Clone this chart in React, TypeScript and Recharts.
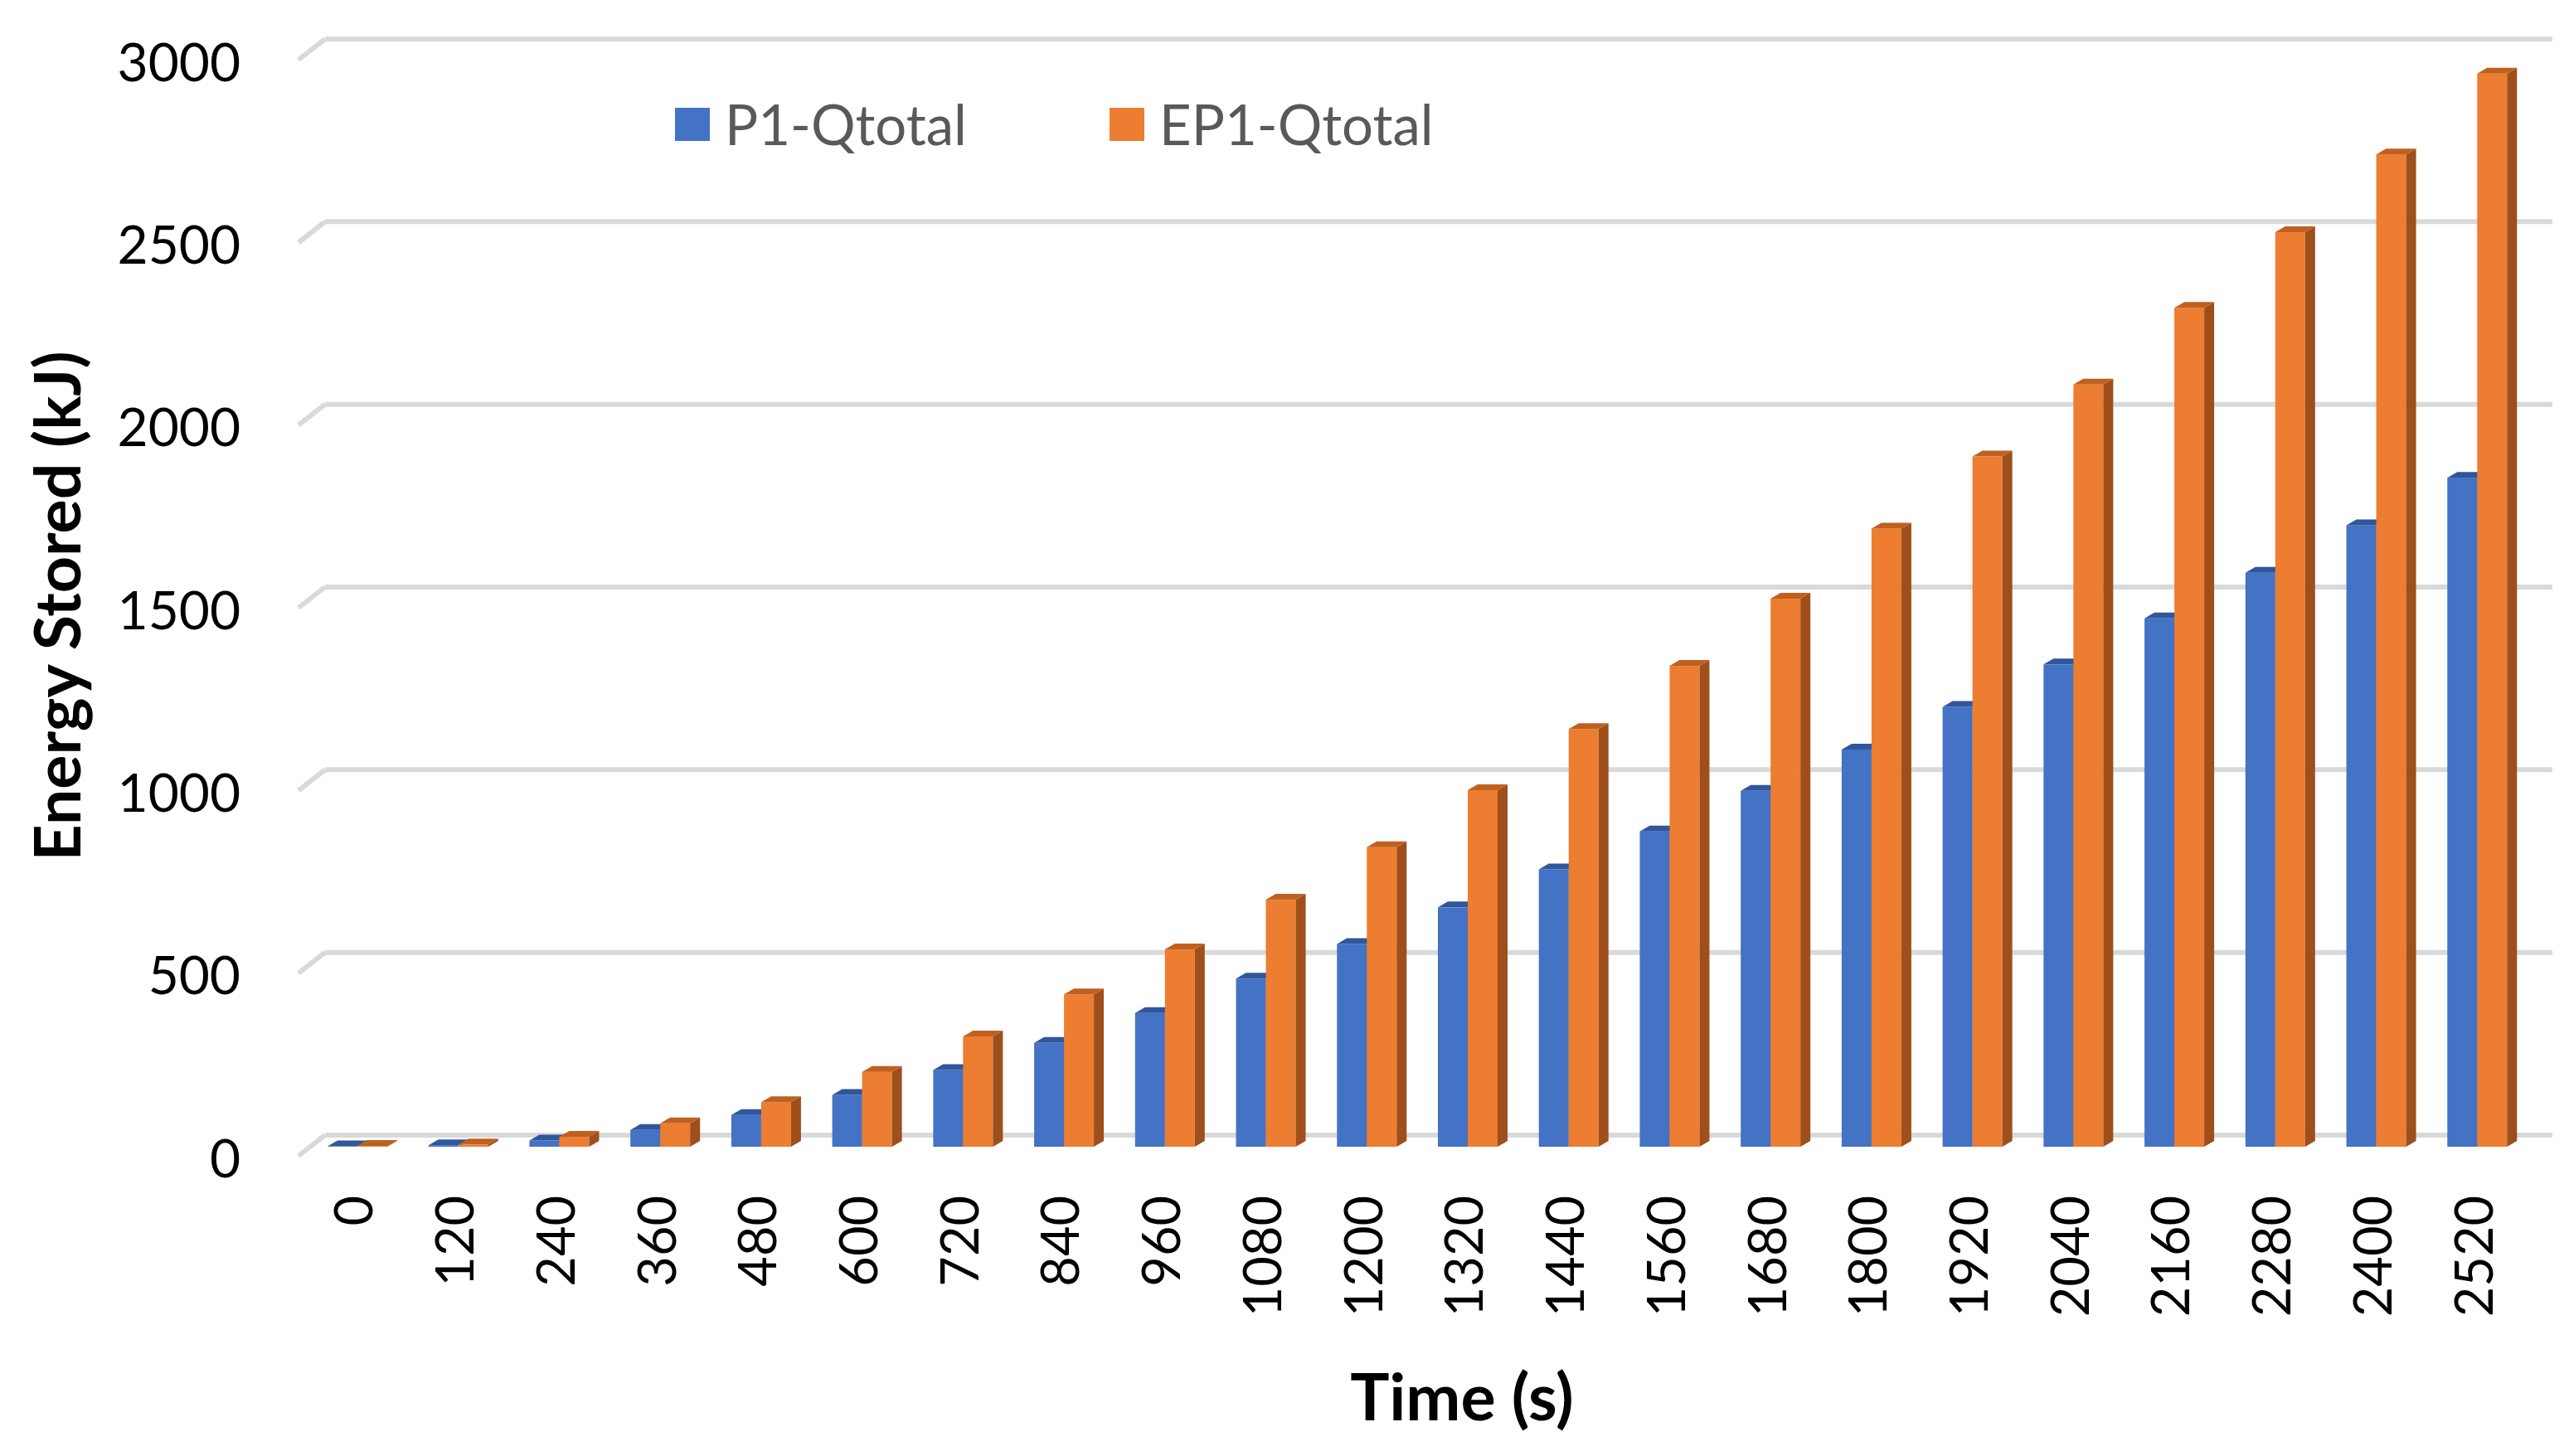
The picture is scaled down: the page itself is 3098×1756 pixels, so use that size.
import { BarChart, Bar, XAxis, YAxis, CartesianGrid, Legend } from 'recharts';

// values (kJ)
const times = ['0', '120', '240', '360', '480', '600', '720', '840', '960', '1080', '1200',
    '1320', '1440', '1560', '1680', '1800', '1920', '2040', '2160', '2280', '2400', '2520'];
const p1Qtotal = [1, 4, 17, 46, 87, 142, 210, 284, 366, 460, 555,
    655, 759, 863, 974, 1087, 1204, 1320, 1446, 1571, 1701, 1831];
const ep1Qtotal = [2, 6, 27, 64, 122, 205, 302, 417, 540, 676, 820,
    976, 1143, 1316, 1500, 1692, 1889, 2086, 2296, 2503, 2716, 2937];
const yTicks = [0, 500, 1000, 1500, 2000, 2500, 3000];
const seriesNames = ['P1-Qtotal', 'EP1-Qtotal'];

const data = times.map((t, i) => ({ time: t, p1: p1Qtotal[i], ep1: ep1Qtotal[i] }));

const FONT = 'Lato, "Open Sans", sans-serif';
const DEPTH_X = 12;
const DEPTH_Y = 7;

// fake 3D column: front face + top + right side
function Box3D(props: any) {
    const { x, y, width, height, fill, topFill, sideFill } = props;
    if (x == null || y == null) return null;
    const w = width;
    const h = Math.max(height, 0);
    const top = `${x},${y} ${x + DEPTH_X},${y - DEPTH_Y} ${x + w + DEPTH_X},${y - DEPTH_Y} ${x + w},${y}`;
    const side = `${x + w},${y} ${x + w + DEPTH_X},${y - DEPTH_Y} ${x + w + DEPTH_X},${y + h - DEPTH_Y} ${x + w},${y + h}`;
    return (
        <g>
            <rect x={x} y={y} width={w} height={h} fill={fill} />
            <polygon points={side} fill={sideFill} />
            <polygon points={top} fill={topFill} />
        </g>
    );
}

// back-wall gridline with the little slanted floor edge on the left
function GridLine(props: any) {
    const { x1, x2, y1 } = props;
    return (
        <g>
            <line x1={x1 + 22} y1={y1 - 14} x2={x2 + 30} y2={y1 - 14} stroke="#D9D9D9" strokeWidth={6} />
            <line x1={x1 - 10} y1={y1 + 11} x2={x1 + 22} y2={y1 - 14} stroke="#D9D9D9" strokeWidth={6} />
        </g>
    );
}

function YTick({ x, y, payload }: any) {
    return (
        <text x={x - 80} y={y + 12} textAnchor="end" dominantBaseline="central"
            fontFamily={FONT} fontSize={64} fill="#000">
            {payload.value}
        </text>
    );
}

function XTick({ x, y, payload }: any) {
    const tx = x - 6;
    const ty = y + 59;
    return (
        <text x={tx} y={ty} transform={`rotate(-90 ${tx} ${ty})`} textAnchor="end" dominantBaseline="central"
            fontFamily={FONT} fontSize={63} fill="#000">
            {payload.value}
        </text>
    );
}

function renderLegend({ payload }: any) {
    const items = [...(payload || [])].sort(
        (a: any, b: any) => seriesNames.indexOf(a.value) - seriesNames.indexOf(b.value));
    return (
        <div style={{ display: 'flex', alignItems: 'center', fontFamily: FONT, fontSize: 67, color: '#595959' }}>
            {items.map((entry: any, i: number) => (
                <div key={entry.value} style={{ display: 'flex', alignItems: 'center', width: i === 0 ? 524 : 'auto' }}>
                    <span style={{ display: 'inline-block', width: 42, height: 40, background: entry.color, marginRight: 18 }} />
                    <span style={{ lineHeight: 1 }}>{entry.value}</span>
                </div>
            ))}
        </div>
    );
}

export default function App() {
    return (
        <div style={{ position: 'absolute', left: 0, top: 0, width: 3098, height: 1756, background: '#fff' }}>
            <BarChart
                width={3098}
                height={1756}
                data={data}
                margin={{ top: 61, right: 50, bottom: 173, left: 270 }}
                barCategoryGap={25}
                barGap={0}
            >
                <CartesianGrid vertical={false} horizontal={GridLine} />
                <XAxis
                    dataKey="time"
                    axisLine={false}
                    tickLine={false}
                    tickSize={0}
                    tickMargin={0}
                    height={200}
                    interval={0}
                    tick={XTick}
                    label={{
                        content: ({ viewBox }: any) => (
                            <text x={viewBox.x + viewBox.width / 2 + 54} y={1682} textAnchor="middle"
                                dominantBaseline="central" fontFamily={FONT} fontWeight={700} fontSize={79} fill="#000">
                                Time (s)
                            </text>
                        ),
                    }}
                />
                <YAxis
                    domain={[0, 3000]}
                    ticks={yTicks}
                    interval={0}
                    axisLine={false}
                    tickLine={false}
                    tickSize={0}
                    tickMargin={0}
                    width={100}
                    tick={YTick}
                    label={{
                        content: ({ viewBox }: any) => {
                            const cx = viewBox.x - 203;
                            const cy = viewBox.y + viewBox.height / 2 + 9;
                            return (
                                <text x={cx} y={cy} transform={`rotate(-90 ${cx} ${cy})`} textAnchor="middle"
                                    dominantBaseline="central" fontFamily={FONT} fontWeight={700} fontSize={77} fill="#000">
                                    Energy Stored (kJ)
                                </text>
                            );
                        },
                    }}
                />
                <Legend
                    layout="horizontal"
                    verticalAlign="middle"
                    align="center"
                    content={renderLegend}
                    wrapperStyle={{ top: 116, left: 814, width: 1000, height: 80 }}
                />
                <Bar
                    dataKey="p1"
                    name="P1-Qtotal"
                    fill="#4472C4"
                    isAnimationActive={false}
                    shape={(p: any) => <Box3D {...p} topFill="#30569B" sideFill="#2F5597" />}
                />
                <Bar
                    dataKey="ep1"
                    name="EP1-Qtotal"
                    fill="#ED7D31"
                    isAnimationActive={false}
                    shape={(p: any) => <Box3D {...p} topFill="#C0601F" sideFill="#9E4F1C" />}
                />
            </BarChart>
        </div>
    );
}
